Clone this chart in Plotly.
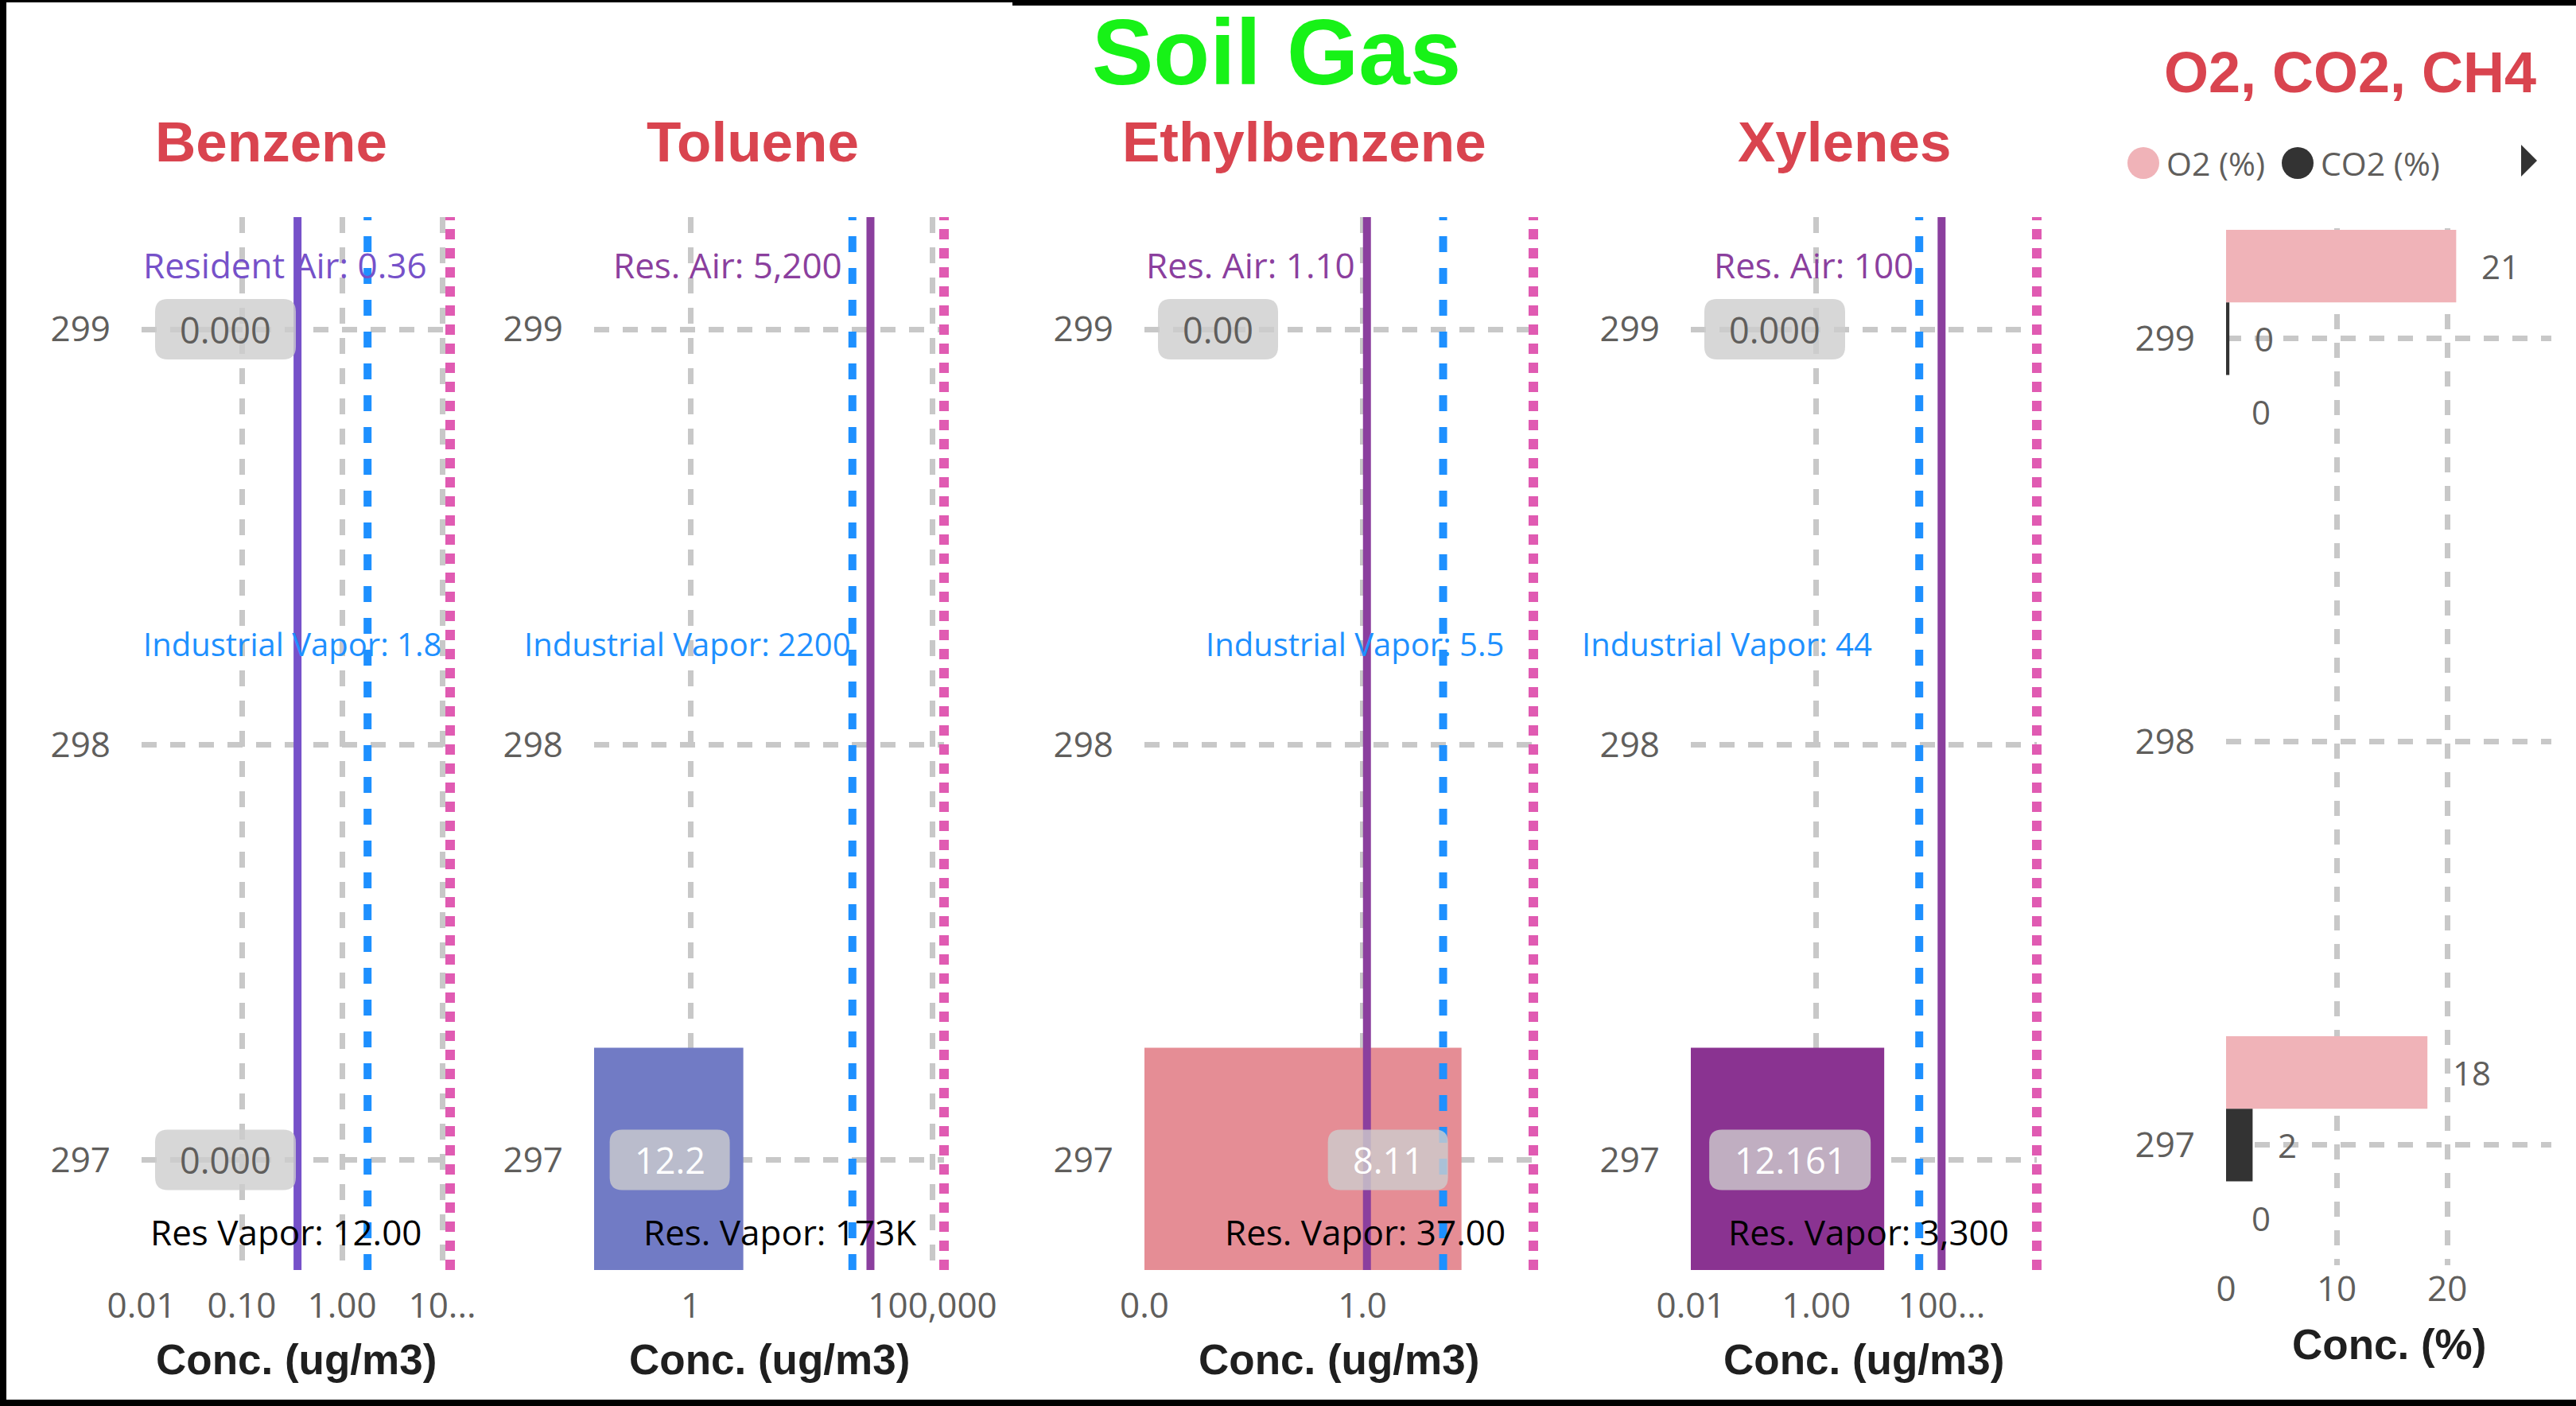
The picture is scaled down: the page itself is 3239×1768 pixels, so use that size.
import math
import plotly.graph_objects as go

# ------------------------------------------------------------------ data
depths = [299, 297]

compounds = ["Benzene", "Toluene", "Ethylbenzene", "Xylenes"]
benzene = [0.0, 0.0]
toluene = [None, 12.2]
ethylbenzene = [0.0, 8.11]
xylenes = [0.0, 12.161]
value_decimals = [3, 1, 2, 3]

resident_air = [0.36, 5200, 1.10, 100]
industrial_vapor = [1.8, 2200, 5.5, 44]
residential_vapor = [12, 173000, 37, 3300]

air_prefix = ["Resident Air", "Res. Air", "Res. Air", "Res. Air"]
air_format = [".2f", ",.0f", ".2f", ",.0f"]
industrial_prefix = "Industrial Vapor"
industrial_format = ["g", "g", "g", "g"]
vapor_prefix = ["Res Vapor", "Res. Vapor", "Res. Vapor", "Res. Vapor"]
vapor_format = [".2f", "k", ".2f", ",.0f"]

benzene_ticks = [0.01, 0.1, 1, 10]
benzene_tick_labels = ["0.01", "0.10", "1.00", "10..."]
toluene_ticks = [1, 100000]
toluene_tick_labels = ["1", "100,000"]
ethylbenzene_ticks = [0.01, 1]
ethylbenzene_tick_labels = ["0.0", "1.0"]
xylenes_ticks = [0.01, 1, 100]
xylenes_tick_labels = ["0.01", "1.00", "100..."]
axis_floor = 0.01

gas_depths = [299, 297]
gas_names = ["O2 (%)", "CO2 (%)", "CH4 (%)"]
o2_pct = [20.8, 18.2]
co2_pct = [0.3, 2.4]
ch4_pct = [0.0, 0.0]
gas_ticks = [0, 10, 20]
gas_axis_max = 29.4

# ------------------------------------------------------------------ styling
W, H = 3239, 1768
BODY = "Segoe UI, Open Sans, sans-serif"
HEAD = "Liberation Sans, Arial, sans-serif"
TXT = "#605E5C"
GRID = "#C8C8C8"
RED = "#D9444F"
GREEN = "#17F217"
BLUE = "#1E90FF"
PINK = "#E05BB2"
PILL = "rgba(205,205,205,0.8)"

panel_px = [(178, 566), (747, 1187), (1439, 1928), (2126, 2561)]
panel_top, panel_bottom = 273, 1597
depth_range = [296.735, 299.27]
bar_width = 0.54
bar_colors = ["#7B52C8", "#717BC5", "#E58D95", "#8A3391"]
air_colors = ["#7651C9", "#8B3F9E", "#8B3F9E", "#8B3F9E"]
title_px = [341, 946, 1640, 2319]

# label placement (pixel shift of the label's right edge from its line;
# None pins the label to the plot's left edge)
air_shift = [None, -33, None, -33]
ind_shift = [None, 0, 78, -57]
vap_shift = [-33, -33, -33, -33]
air_y, ind_y, vap_y = 0.955, 0.595, 0.036
caption_sizes = [44, 40, 44]

gas_px = (2799, 3208)
gas_top, gas_bottom = 287, 1591
gas_range = [296.702, 299.274]
gas_colors = ["#F0B3B8", "#333333", "#A6A6A6"]
gas_bar_width = 0.18
gas_offsets = [0.09, -0.09, -0.27]

series = [benzene, toluene, ethylbenzene, xylenes]
tick_sets = [(benzene_ticks, benzene_tick_labels), (toluene_ticks, toluene_tick_labels),
             (ethylbenzene_ticks, ethylbenzene_tick_labels), (xylenes_ticks, xylenes_tick_labels)]


def fmt(v, spec):
    if spec == "k":
        return f"{v / 1000:.0f}K"
    return format(v, spec)


def px_x(p):
    return p / W


def px_y(p):
    return 1 - p / H


def pill_path(x0, y0, x1, y1, r):
    return (f"M{x0 + r},{y0} L{x1 - r},{y0} Q{x1},{y0} {x1},{y0 + r} "
            f"L{x1},{y1 - r} Q{x1},{y1} {x1 - r},{y1} L{x0 + r},{y1} "
            f"Q{x0},{y1} {x0},{y1 - r} L{x0},{y0 + r} Q{x0},{y0} {x0 + r},{y0} Z")


fig = go.Figure()
shapes = []
annotations = []


def text(t, x, y, size=44, color=TXT, family=BODY, bold=False, xanchor="center",
         yanchor="middle", xref="paper", yref="paper", xshift=0):
    annotations.append(dict(
        text=t, x=x, y=y, xref=xref, yref=yref, xanchor=xanchor, yanchor=yanchor,
        xshift=xshift, showarrow=False,
        font=dict(family=family, size=size, color=color, weight="bold" if bold else "normal")))


y_dom = [px_y(panel_bottom), px_y(panel_top)]
axis_common = dict(showgrid=True, gridcolor=GRID, gridwidth=7, zeroline=False,
                   showline=False, ticks="", automargin=False, fixedrange=True,
                   tickfont=dict(family=BODY, size=44, color=TXT))

for i, name in enumerate(compounds):
    k = i + 1
    xr = "x" if k == 1 else f"x{k}"
    yr = "y" if k == 1 else f"y{k}"
    xkey = "xaxis" if k == 1 else f"xaxis{k}"
    ykey = "yaxis" if k == 1 else f"yaxis{k}"
    x0p, x1p = panel_px[i]
    vals = series[i]
    top_val = max([resident_air[i], industrial_vapor[i], residential_vapor[i]] +
                  [v for v in vals if v])
    lo, hi = math.log10(axis_floor), math.log10(top_val)

    def frac(v, lo=lo, hi=hi):
        return (math.log10(v) - lo) / (hi - lo) if v and v > 0 else 0.0

    ticks, tick_labels = tick_sets[i]
    fig.update_layout(**{
        xkey: dict(type="log", domain=[px_x(x0p), px_x(x1p)], range=[lo, hi], anchor=yr,
                   tickmode="array", tickvals=ticks, ticktext=tick_labels,
                   griddash="20px,18px", ticklabelstandoff=15, **axis_common),
        ykey: dict(domain=y_dom, range=depth_range, anchor=xr, tickmode="array",
                   tickvals=[297, 298, 299], griddash="19px,17px", ticklabelstandoff=38,
                   **axis_common),
    })

    # concentration bars (zero cannot be placed on a log scale)
    fig.add_trace(go.Bar(
        x=[v if v else None for v in vals], y=depths, orientation="h", width=bar_width,
        marker=dict(color=bar_colors[i], line=dict(width=0)), xaxis=xr, yaxis=yr,
        hoverinfo="skip"))

    # screening levels
    for val, color, width, dash in [
        (resident_air[i], air_colors[i], 10, "solid"),
        (industrial_vapor[i], BLUE, 10, "20px,20px"),
    ]:
        fig.add_trace(go.Scatter(
            x=[val, val], y=depth_range, mode="lines", xaxis=xr, yaxis=yr,
            line=dict(color=color, width=width, dash=dash), hoverinfo="skip"))
    # the residential vapour level sits on the axis end, so draw it unclipped
    shapes.append(dict(type="line", xref=f"{xr} domain", yref=f"{yr} domain",
                       x0=frac(residential_vapor[i]), x1=frac(residential_vapor[i]),
                       y0=0, y1=1, line=dict(color=PINK, width=12, dash="13px,11px"),
                       layer="above"))

    # screening level captions
    for val, label, color, shift, yy, size in [
        (resident_air[i], f"{air_prefix[i]}: {fmt(resident_air[i], air_format[i])}",
         air_colors[i], air_shift[i], air_y, caption_sizes[0]),
        (industrial_vapor[i], f"{industrial_prefix}: {fmt(industrial_vapor[i], industrial_format[i])}",
         BLUE, ind_shift[i], ind_y, caption_sizes[1]),
        (residential_vapor[i], f"{vapor_prefix[i]}: {fmt(residential_vapor[i], vapor_format[i])}",
         "#000000", vap_shift[i], vap_y, caption_sizes[2]),
    ]:
        if shift is None:
            text(label, 0, yy, size=size, color=color, xanchor="left", xref=f"{xr} domain",
                 yref=f"{yr} domain")
        else:
            text(label, frac(val), yy, size=size, color=color, xanchor="right",
                 xref=f"{xr} domain", yref=f"{yr} domain", xshift=shift)

    # data labels with rounded backgrounds
    width_px = x1p - x0p
    for d, v in zip(depths, vals):
        if v is None:
            continue
        lab = f"{v:.{value_decimals[i]}f}"
        w = 47 + 26 * len(lab)
        end = frac(v)
        if v > 0 and end * width_px >= w + 34:
            anchor, a, b = end, -17 - w, -17
        else:
            anchor, a, b = 0.0, 17, 17 + w
        shapes.append(dict(type="path", xref=f"{xr} domain", yref=yr, xsizemode="pixel",
                           ysizemode="pixel", xanchor=anchor, yanchor=d,
                           path=pill_path(a, -38, b, 38, 16), fillcolor=PILL,
                           line=dict(width=0), layer="above"))
        text(lab, anchor, d, size=45, color="#FFFFFF" if v > 0 else TXT,
             xref=f"{xr} domain", yref=yr, xshift=(a + b) / 2)

    text(name, px_x(title_px[i]), px_y(179), size=71, color=RED, family=HEAD, bold=True)
    text("Conc. (ug/m3)", 0.5, px_y(1709), size=53, color="#1F1F1F", family=HEAD,
         bold=True, xref=f"{xr} domain")

# ------------------------------------------------------------------ O2 / CO2 / CH4 panel
fig.update_layout(
    xaxis5=dict(domain=[px_x(gas_px[0]), px_x(gas_px[1])], range=[0, gas_axis_max],
                anchor="y5", tickmode="array", tickvals=gas_ticks, griddash="19px,17px",
                ticklabelstandoff=0, **axis_common),
    yaxis5=dict(domain=[px_y(gas_bottom), px_y(gas_top)], range=gas_range, anchor="x5",
                tickmode="array", tickvals=[297, 298, 299], griddash="19px,17px",
                ticklabelstandoff=38, **axis_common),
)

for gname, vals, color, off in zip(gas_names, [o2_pct, co2_pct, ch4_pct], gas_colors,
                                   gas_offsets):
    fig.add_trace(go.Bar(
        x=vals, y=gas_depths, orientation="h", width=gas_bar_width, offset=off,
        marker=dict(color=color, line=dict(width=0)), name=gname, xaxis="x5", yaxis="y5",
        hoverinfo="skip"))
    for d, v in zip(gas_depths, vals):
        text(f"{v:.0f}", v, d + off + gas_bar_width / 2, size=42, xanchor="left",
             xref="x5", yref="y5", xshift=30)

text("O2, CO2, CH4", px_x(2955), px_y(91), size=72, color=RED, family=HEAD, bold=True)
text("Conc. (%)", 0.5, px_y(1690), size=53, color="#1F1F1F", family=HEAD, bold=True,
     xref="x5 domain")

# legend (first two entries, the rest behind the scroll arrow)
legend_px = [(2695, 2722), (2889, 2916)]
for (cx, tx), gname, color in zip(legend_px, gas_names, gas_colors):
    shapes.append(dict(type="circle", xref="paper", yref="paper", xsizemode="pixel",
                       ysizemode="pixel", xanchor=px_x(cx), yanchor=px_y(205),
                       x0=-20, x1=20, y0=-20, y1=20, fillcolor=color, line=dict(width=0)))
    text(gname, px_x(tx), px_y(205), size=41, xanchor="left")
shapes.append(dict(type="path", xref="paper", yref="paper", xsizemode="pixel",
                   ysizemode="pixel", xanchor=px_x(3180), yanchor=px_y(202),
                   path="M-10,20 L10,0 L-10,-20 Z", fillcolor="#333333", line=dict(width=0)))

# page title
text("Soil Gas", px_x(1605), px_y(66), size=116, color=GREEN, family=HEAD, bold=True)

# page frame
for x0, x1, y0, y1 in [(0, 8, 0, H), (0, 1273, 0, 3), (1273, W, 0, 7), (0, W, 1760, H)]:
    shapes.append(dict(type="rect", xref="paper", yref="paper", x0=px_x(x0), x1=px_x(x1),
                       y0=px_y(y1), y1=px_y(y0), fillcolor="#000000", line=dict(width=0),
                       layer="above"))

fig.update_layout(
    width=W, height=H, autosize=False,
    margin=dict(l=0, r=0, t=0, b=0, pad=0, autoexpand=False),
    paper_bgcolor="#FFFFFF", plot_bgcolor="#FFFFFF", showlegend=False, hovermode=False,
    barmode="overlay", shapes=shapes, annotations=annotations,
)

fig.write_html("out.html")
